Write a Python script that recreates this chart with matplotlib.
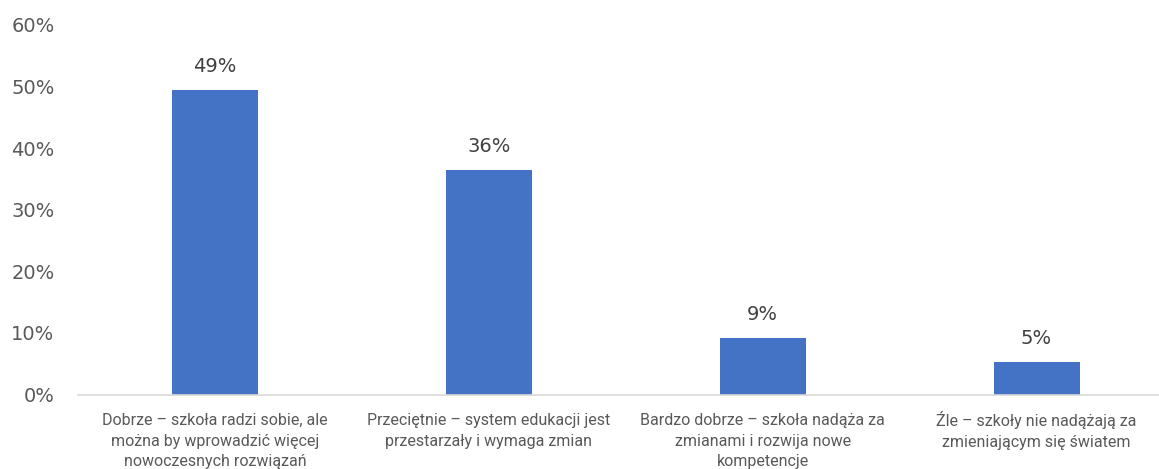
import matplotlib.pyplot as plt
from matplotlib.ticker import FuncFormatter

# dane
kategorie = [
    "Dobrze – szkoła radzi sobie, ale\nmożna by wprowadzić więcej\nnowoczesnych rozwiązań",
    "Przeciętnie – system edukacji jest\nprzestarzały i wymaga zmian",
    "Bardzo dobrze – szkoła nadąża za\nzmianami i rozwija nowe\nkompetencje",
    "Źle – szkoły nie nadążają za\nzmieniającym się światem",
]
wartosci = [49.4, 36.4, 9.1, 5.3]
etykiety = ["49%", "36%", "9%", "5%"]
yticks = [0, 10, 20, 30, 40, 50, 60]

plt.rcParams['font.family'] = ['Roboto', 'DejaVu Sans']
liczby = ['DejaVu Sans']   # szersze cyfry, bliżej oryginału

fig = plt.figure(figsize=(11.59, 4.69), dpi=100)
ax = fig.add_axes([0.0673, 0.1588, 0.9452, 0.7879])

x = range(len(kategorie))
bars = ax.bar(x, wartosci, width=0.314, color="#4472C4", zorder=2)

for b, txt in zip(bars, etykiety):
    ax.annotate(txt, (b.get_x() + b.get_width() / 2, b.get_height()),
                xytext=(0, 13), textcoords="offset points",
                ha="center", va="baseline", fontsize=14, color="#404040",
                family=liczby)

# podpisy kategorii
for i, k in zip(x, kategorie):
    # "Źle" ma wyzszy akcent, wiec ramka tekstu jest wyzsza
    dy = -12 if not k.startswith("Ź") else -10.5
    ax.annotate(k, (i, 0), xytext=(0, dy - 1.5), textcoords="offset points",
                ha="center", va="top", fontsize=11.5, color="#595959",
                linespacing=1.45, multialignment="center",
                annotation_clip=False)

ax.set_xlim(-0.5, len(kategorie) - 0.5)
ax.set_ylim(0, 60)
ax.set_yticks(yticks)
ax.yaxis.set_major_formatter(FuncFormatter(lambda v, p: f"{v:.0f}%"))
ax.set_xticks([])
for t in ax.get_yticklabels():
    t.set_family(liczby)

ax.tick_params(axis="y", length=0, pad=17, labelsize=14, labelcolor="#595959")

for s in ["top", "right", "left"]:
    ax.spines[s].set_visible(False)
ax.spines["bottom"].set_color("#D9D9D9")
ax.spines["bottom"].set_linewidth(1.2)

fig.savefig("out.png", dpi=100)
